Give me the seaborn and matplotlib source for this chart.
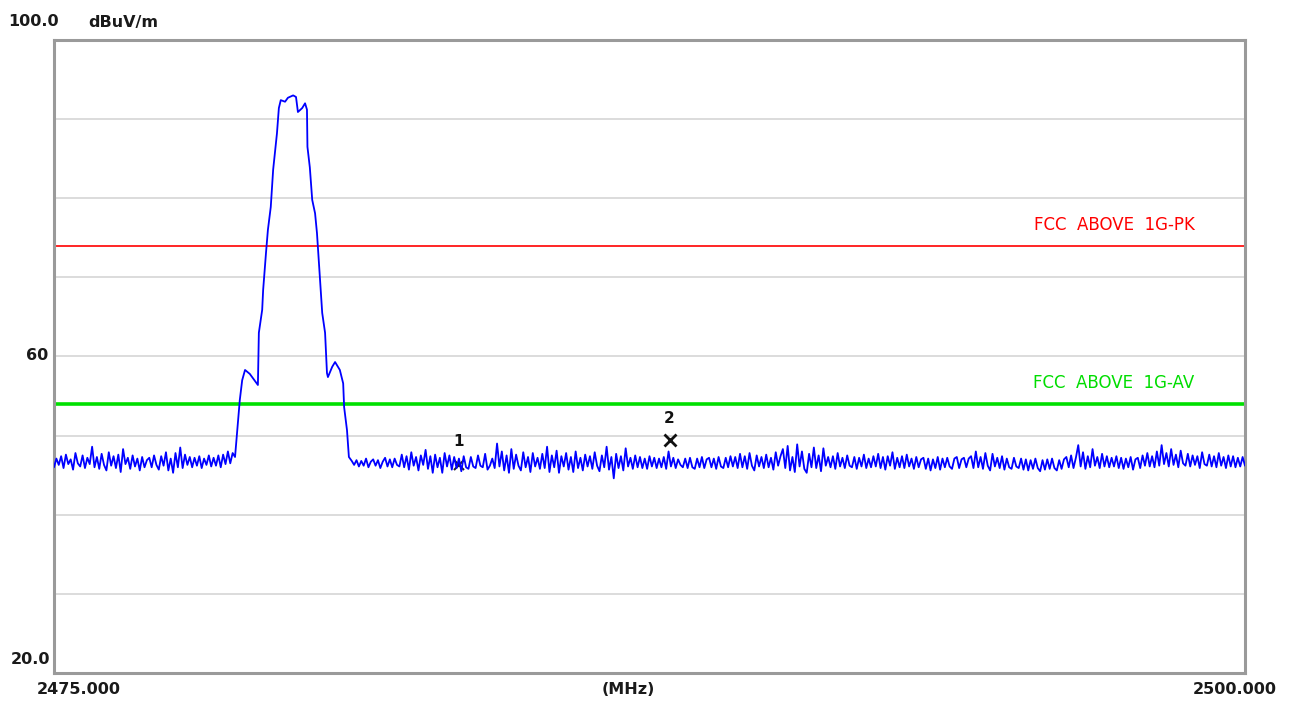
import numpy as np
import pandas as pd
import matplotlib
matplotlib.use("Agg")
import matplotlib.pyplot as plt
import seaborn as sns

# sweep 2475 - 2500 MHz, level in dBuV/m
noise_left = [46.0, 47.1, 46.3, 47.4, 45.9, 47.6, 46.4, 47.0, 45.7, 47.8, 46.5, 46.1, 47.5, 45.9, 47.2, 46.4, 48.6, 46.0, 47.3, 45.8,
              47.7, 46.3, 45.6, 47.9, 46.2, 47.4, 45.9, 47.6, 45.4, 48.3, 46.4, 47.2, 45.8, 47.5, 46.1, 47.1, 45.6, 47.3, 46.0, 46.9,
              47.2, 46.0, 47.5, 46.3, 45.7, 47.4, 46.2, 47.9, 45.6, 47.1, 45.3, 47.8, 46.0, 48.5, 45.9, 47.6, 46.3, 47.3, 46.0, 47.2,
              46.2, 47.4, 45.9, 47.1, 46.3, 47.5, 46.1, 47.2, 46.2, 47.5, 46.0, 47.6, 46.4, 48.0, 46.5, 47.8]

signal_freq = [2478.80, 2478.90, 2478.95, 2479.01, 2479.11, 2479.28, 2479.30, 2479.37, 2479.39, 2479.45,
               2479.49, 2479.55, 2479.60, 2479.68, 2479.72, 2479.76, 2479.85, 2479.91, 2480.02, 2480.08,
               2480.12, 2480.21, 2480.27, 2480.31, 2480.32, 2480.37, 2480.42, 2480.48, 2480.52, 2480.54,
               2480.58, 2480.63, 2480.69, 2480.73, 2480.75, 2480.84, 2480.90, 2481.00, 2481.07, 2481.09,
               2481.15, 2481.19]
signal_level = [47.3, 54.5, 57.0, 58.3, 57.8, 56.4, 63.0, 65.9, 68.4, 73.1,
                76.0, 78.9, 83.6, 88.2, 91.4, 92.4, 92.2, 92.7, 93.0, 92.8,
                90.9, 91.4, 92.0, 91.2, 86.5, 83.9, 79.8, 78.1, 75.6, 73.8,
                70.0, 65.5, 63.0, 57.9, 57.4, 58.7, 59.3, 58.3, 56.6, 53.6,
                50.7, 47.3]

noise_right = [46.8, 46.3, 46.9, 46.1, 46.8, 46.2, 47.1, 46.0, 46.7, 47.0, 46.2, 46.9, 45.9, 46.7, 47.2, 46.1, 47.0, 46.0, 47.1, 46.3,
               46.1, 47.6, 46.0, 47.4, 45.7, 47.9, 46.2, 47.3, 45.6, 47.5, 46.3, 48.2, 45.8, 47.4, 45.3, 47.6, 46.0, 47.2, 45.3, 47.8,
               46.1, 47.5, 45.7, 47.3, 45.9, 47.1, 45.5, 47.4, 46.0, 45.8, 47.3, 46.1, 45.9, 47.5, 46.2, 46.0, 47.7, 45.7, 46.2, 47.1,
               45.9, 49.0, 46.1, 48.0, 45.6, 47.5, 45.3, 48.3, 45.8, 47.6, 46.2, 45.6, 47.9, 46.0, 47.3, 45.4, 47.8, 46.1, 47.2, 45.8,
               47.7, 45.9, 48.6, 45.4, 47.5, 46.0, 48.1, 45.3, 47.4, 46.1, 47.8, 45.7, 47.3, 45.4, 48.0, 45.9, 47.2, 45.6, 47.6, 46.1,
               47.4, 45.8, 47.9, 46.2, 45.5, 47.5, 46.0, 48.6, 45.7, 47.3, 44.6, 47.7, 45.9, 47.4, 45.6, 48.4, 46.1, 47.2, 45.8, 47.5,
               46.0, 47.3, 45.9, 47.1, 45.8, 47.4, 46.1, 47.2, 45.9, 47.1, 46.0, 47.3, 45.8, 48.0, 46.1, 47.2, 45.9, 47.0, 46.3, 46.0,
               47.1, 45.9, 47.2, 46.0, 45.8, 47.1, 46.0, 47.3, 45.9, 47.0, 47.2, 46.0, 47.1, 45.8, 47.3, 46.1, 45.9, 47.2, 46.0, 47.4,
               46.1, 47.3, 45.9, 47.7, 46.0, 47.4, 45.8, 47.8, 46.2, 45.6, 47.5, 46.1, 47.3, 45.9, 47.6, 46.0, 47.2, 45.7, 47.9, 46.2,
               47.4, 48.3, 45.9, 48.7, 45.6, 47.3, 45.4, 48.9, 46.1, 48.0, 45.8, 45.3, 47.7, 46.0, 48.5, 45.9, 47.5, 45.5, 48.4, 46.2,
               47.3, 46.0, 47.4, 45.8, 47.8, 46.1, 47.2, 45.9, 47.5, 46.2, 46.0, 47.3, 45.8, 47.2, 46.1, 47.6, 45.9, 47.1, 46.0, 47.4,
               46.1, 47.7, 45.9, 47.3, 45.7, 47.4, 46.2, 47.9, 45.8, 47.2, 46.0, 47.4, 45.9, 47.6, 46.1, 47.1, 45.8, 47.3, 46.0, 47.0,
               47.2, 45.8, 47.1, 45.6, 47.0, 45.9, 47.3, 45.7, 47.1, 46.0, 47.2, 46.1, 45.8, 47.1, 47.3, 45.9, 47.0, 47.2, 46.0, 47.1,
               47.4, 45.9, 48.0, 46.0, 47.3, 45.8, 47.8, 46.2, 45.6, 47.7, 46.1, 47.2, 45.9, 47.4, 45.7, 47.1, 46.0, 45.8, 47.2, 46.1,
               45.9, 47.1, 45.7, 47.0, 45.6, 46.9, 45.8, 47.1, 45.9, 45.5, 46.9, 45.7, 47.0, 45.8, 47.1, 45.9, 45.6, 46.9, 45.8, 47.0,
               47.3, 46.0, 47.5, 45.9, 47.2, 48.8, 46.1, 47.9, 45.8, 47.4, 46.0, 48.3, 46.2, 47.3, 45.9, 47.7, 46.1, 47.4, 46.0, 47.2,
               46.1, 47.4, 45.9, 47.2, 45.8, 47.1, 46.0, 47.3, 45.7, 47.0, 47.2, 45.9, 47.5, 46.2, 47.8, 46.1, 47.4, 46.0, 48.0, 46.2,
               48.8, 46.4, 47.8, 46.1, 48.3, 46.3, 47.6, 46.0, 48.1, 46.5, 46.2, 47.7, 46.1, 47.5, 46.3, 47.4, 45.9, 47.9, 46.4, 46.2,
               47.6, 46.1, 47.4, 46.0, 47.8, 46.2, 47.3, 45.9, 47.5, 46.1, 47.4, 46.0, 47.2, 46.1, 47.3, 46.2]

limit_pk = 74.0
limit_av = 54.0
marker_freq = [2483.50, 2487.92]
marker_level = [46.3, 49.4]
marker_names = ["1", "2"]

# sweep points are 50 kHz apart
freq_left = np.linspace(2475.0, 2478.75, len(noise_left))
freq_right = np.linspace(2481.25, 2500.0, len(noise_right))

trace = pd.DataFrame({
    "freq": np.concatenate([freq_left, signal_freq, freq_right]),
    "level": np.concatenate([noise_left, signal_level, noise_right]),
})

sns.set_style("white")
plt.rcParams["font.family"] = ["DejaVu Sans"]

fig = plt.figure(figsize=(12.95, 7.02), dpi=100)
ax = fig.add_axes([54 / 1295, 29 / 702, 1191 / 1295, 633 / 702])

sns.lineplot(data=trace, x="freq", y="level", color="#0000ff", linewidth=1.3,
             sort=False, estimator=None, ax=ax, zorder=3)

ax.axhline(limit_pk, color="#ff0000", linewidth=1.2, zorder=2)
ax.axhline(limit_av, color="#00e000", linewidth=2.6, zorder=2)

ax.text(2497.25, 76.6, "FCC  ABOVE  1G-PK", color="#ff0000", fontsize=12,
        ha="center", va="center")
ax.text(2497.25, 56.6, "FCC  ABOVE  1G-AV", color="#00dd00", fontsize=12,
        ha="center", va="center")

ax.plot(marker_freq[0], marker_level[0], marker="x", color="#222222",
        markersize=7, markeredgewidth=1.5, zorder=2)
ax.plot(marker_freq[1], marker_level[1], marker="x", color="#111111",
        markersize=9, markeredgewidth=2.0, zorder=4)
ax.text(marker_freq[0], marker_level[0] + 2.9, marker_names[0], fontsize=11,
        fontweight="bold", ha="center", va="center", color="#111111")
ax.text(marker_freq[1], marker_level[1] + 2.8, marker_names[1], fontsize=11,
        fontweight="bold", ha="center", va="center", color="#111111")

ax.set_xlim(2475, 2500)
ax.set_ylim(20, 100)
ax.set_yticks([30, 40, 50, 60, 70, 80, 90])
ax.set_xticks([])
ax.yaxis.grid(True, color="#d6d6d6", linewidth=1.2)
ax.tick_params(left=False, labelleft=False, bottom=False, labelbottom=False)
ax.set_xlabel("")
ax.set_ylabel("")
for sp in ax.spines.values():
    sp.set_color("#9a9a9a")
    sp.set_linewidth(2.2)

lbl = dict(fontsize=11.5, fontweight="bold", color="#1a1a1a")
fig.text(8 / 1295, 1 - 22 / 702, "100.0", ha="left", va="center", **lbl)
fig.text(88 / 1295, 1 - 22 / 702, "dBuV/m", ha="left", va="center", **lbl)
fig.text(48 / 1295, 1 - 355 / 702, "60", ha="right", va="center", **lbl)
fig.text(50 / 1295, 1 - 660 / 702, "20.0", ha="right", va="center", **lbl)
fig.text(37 / 1295, 1 - 690 / 702, "2475.000", ha="left", va="center", **lbl)
fig.text(628 / 1295, 1 - 690 / 702, "(MHz)", ha="center", va="center", **lbl)
fig.text(1277 / 1295, 1 - 690 / 702, "2500.000", ha="right", va="center", **lbl)

fig.savefig("out.png", dpi=100)
